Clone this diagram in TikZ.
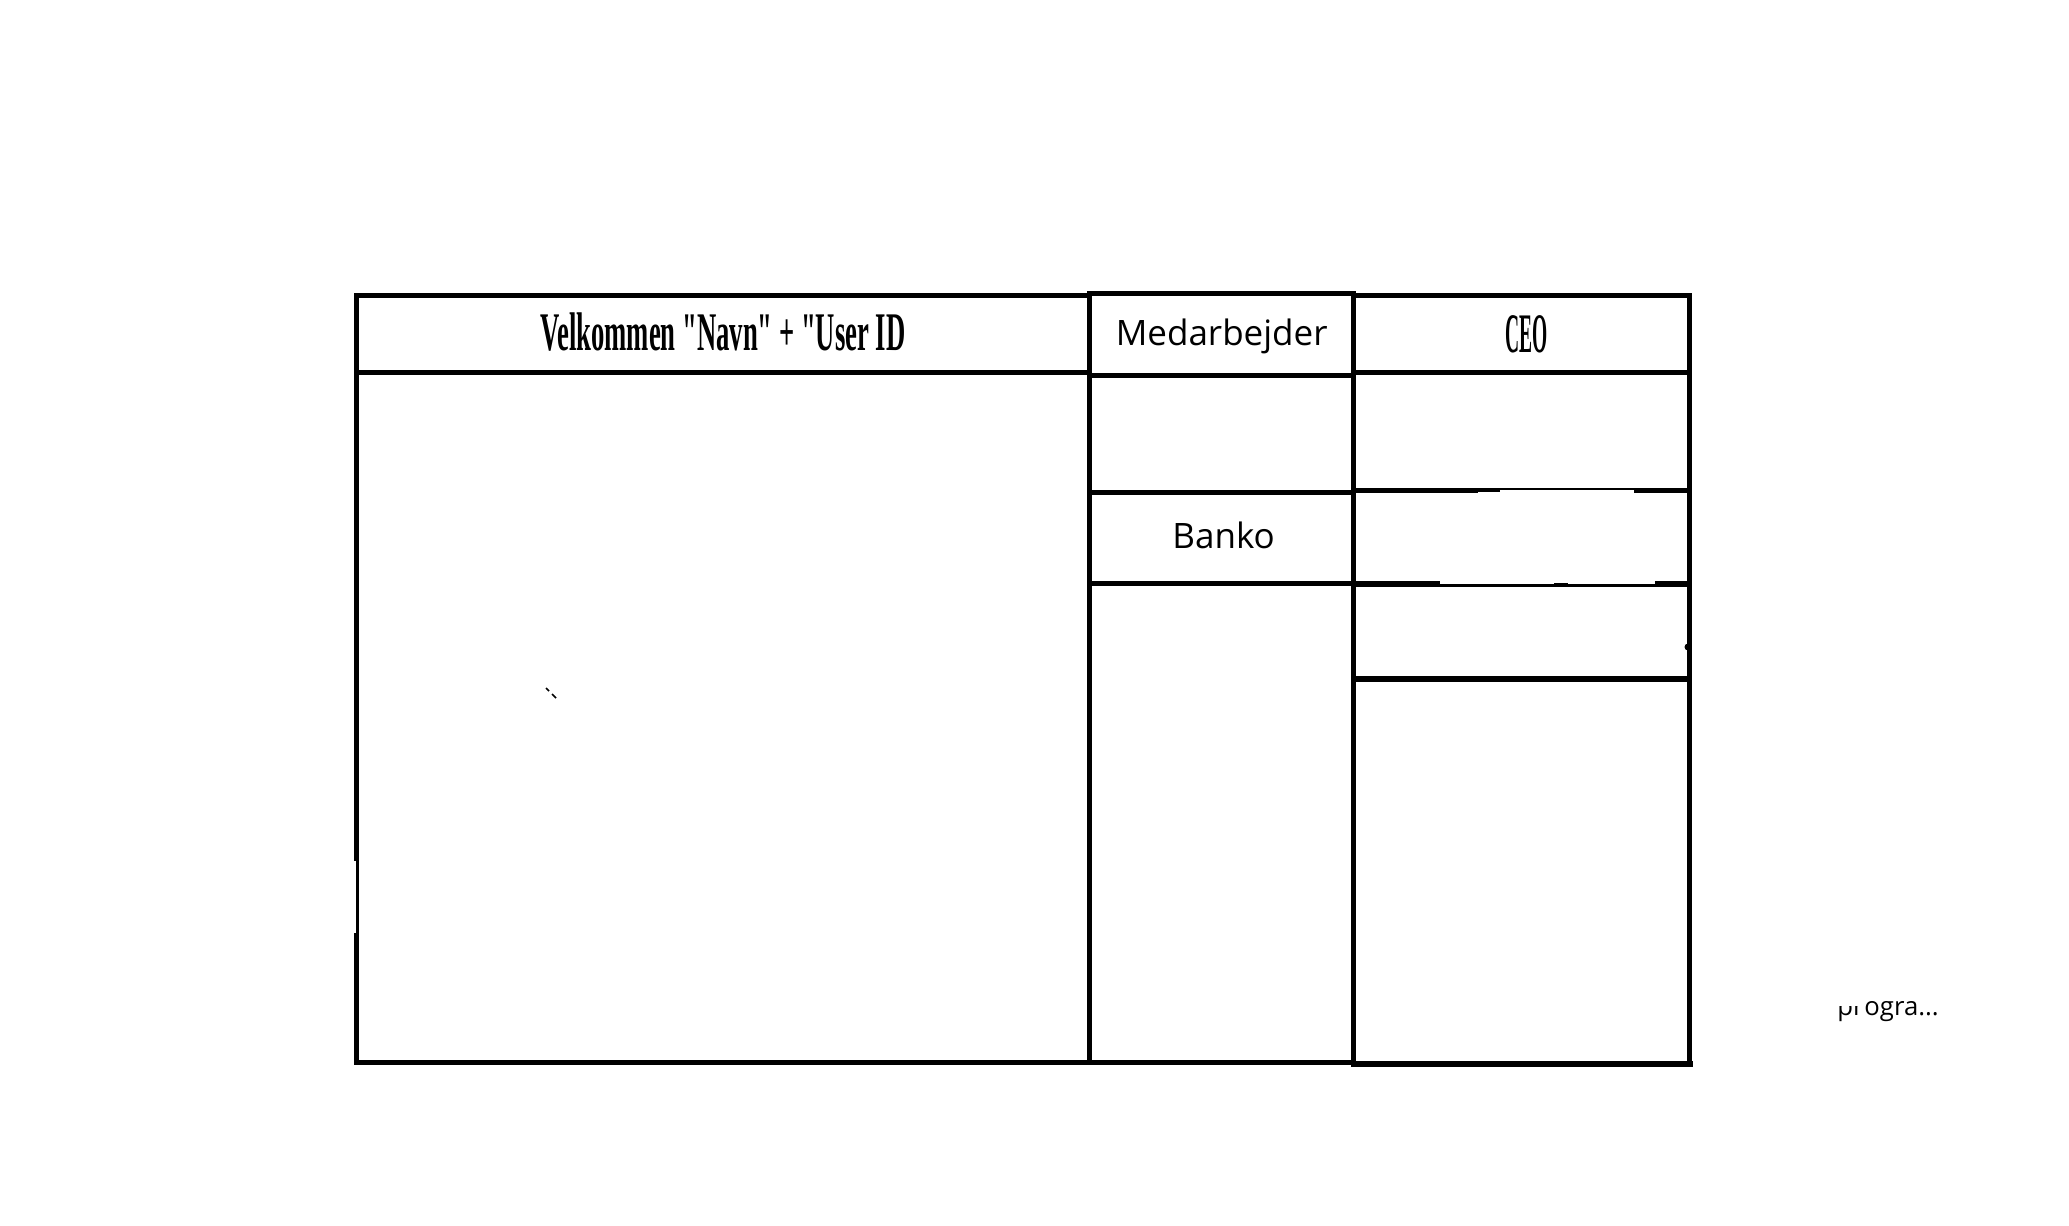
\documentclass[tikz,border=0pt]{standalone}
\usepackage{fontspec}
\newfontfamily\uifont{Open Sans}
\newfontfamily\condfont[FakeStretch=0.49]{Liberation Serif}
\newfontfamily\ceofont[FakeStretch=0.35]{Liberation Serif}
\begin{document}
\begin{tikzpicture}[x=0.5pt,y=-0.5pt,
  frame/.style={line width=2.6pt,line cap=rect},
  thinframe/.style={line width=1.1pt,line cap=butt},
  midframe/.style={line width=1.6pt,line cap=butt},
  ui/.style={inner sep=0pt,anchor=base,font=\uifont\fontsize{17.5}{20}\selectfont},
  cond/.style={inner sep=0pt,anchor=base,font=\condfont\bfseries\fontsize{27.2}{30}\selectfont},
  ceo/.style={inner sep=0pt,anchor=base,font=\ceofont\bfseries\fontsize{27.9}{30}\selectfont},
  small/.style={inner sep=0pt,font=\uifont\fontsize{12.85}{15}\selectfont}]
\fill[white] (0,0) rectangle (2069,1226);
\useasboundingbox (0,0) rectangle (2069,1226);

% ---------- left column ----------
\draw[frame] (356.5,295.5) -- (1089.8,295.5);
\draw[frame] (356.5,295.5) -- (356.5,1062.5);
\draw[frame] (356.5,1062.5) -- (1089.8,1062.5);
\draw[frame] (356.5,372.5) -- (1089.8,372.5);
\fill[white] (353,861) rectangle (355.6,933);

% ---------- middle column ----------
\draw[frame] (1089.8,293.7) -- (1353.5,293.7);
\draw[frame] (1089.8,293.7) -- (1089.8,1062.5);
\draw[frame] (1353.5,293.7) -- (1353.5,1062.5);
\draw[frame] (1089.8,375.5) -- (1353.5,375.5);
\draw[frame] (1089.8,492.4) -- (1353.5,492.4);
\draw[frame] (1089.8,583.3) -- (1353.5,583.3);
\draw[frame] (1089.8,1062.5) -- (1353.5,1062.5);

% ---------- right column ----------
\draw[frame] (1353.5,295.5) -- (1689.5,295.5);
\draw[frame] (1689.5,295.5) -- (1689.5,1063.5);
\draw[frame] (1353.5,372.5) -- (1689.5,372.5);
% line at 490 with thinner middle part
\draw[frame] (1353.5,490.5) -- (1475,490.5);
\draw[midframe] (1475,490) -- (1500,490);
\draw[thinframe] (1500,489.3) -- (1637,489.3);
\draw[frame] (1637,490.5) -- (1689.5,490.5);
% line at 584 with thinner middle part
\draw[frame] (1353.5,584) -- (1437,584);
\draw[thinframe] (1437,585.5) -- (1658,585.5);
\draw[midframe] (1554,584.8) -- (1568,584.8);
\draw[frame] (1658,584) -- (1689.5,584);
\draw[frame] (1353.5,679) -- (1689.5,679);
\draw[line width=3pt,line cap=rect] (1353.5,1063.5) -- (1689.5,1063.5);
\fill (1688,647) circle (3.5);

% ---------- texts ----------
\node[cond] (welcome) at (723,350) {Velkommen "Navn" + "User ID};
\node[ui] (medarb) at (1221.7,345) {Medarbejder};
\node[ceo] (ceo) at (1527,352) {CEO};
\node[ui] (banko) at (1223.6,548.5) {Banko};

\node[small,anchor=base west] (pr) at (1837,1015) {pr};
\node[small,anchor=base west] (ogra) at (pr.base east) {ogra...};
\fill[white] ([yshift=2pt]pr.north west) rectangle ([yshift=4.5pt]pr.base east);

% ---------- small stray tick ----------
\draw[line width=0.75pt] (546,688) -- (549,691);
\draw[line width=0.75pt] (552,694) -- (556,698);
\end{tikzpicture}
\end{document}
